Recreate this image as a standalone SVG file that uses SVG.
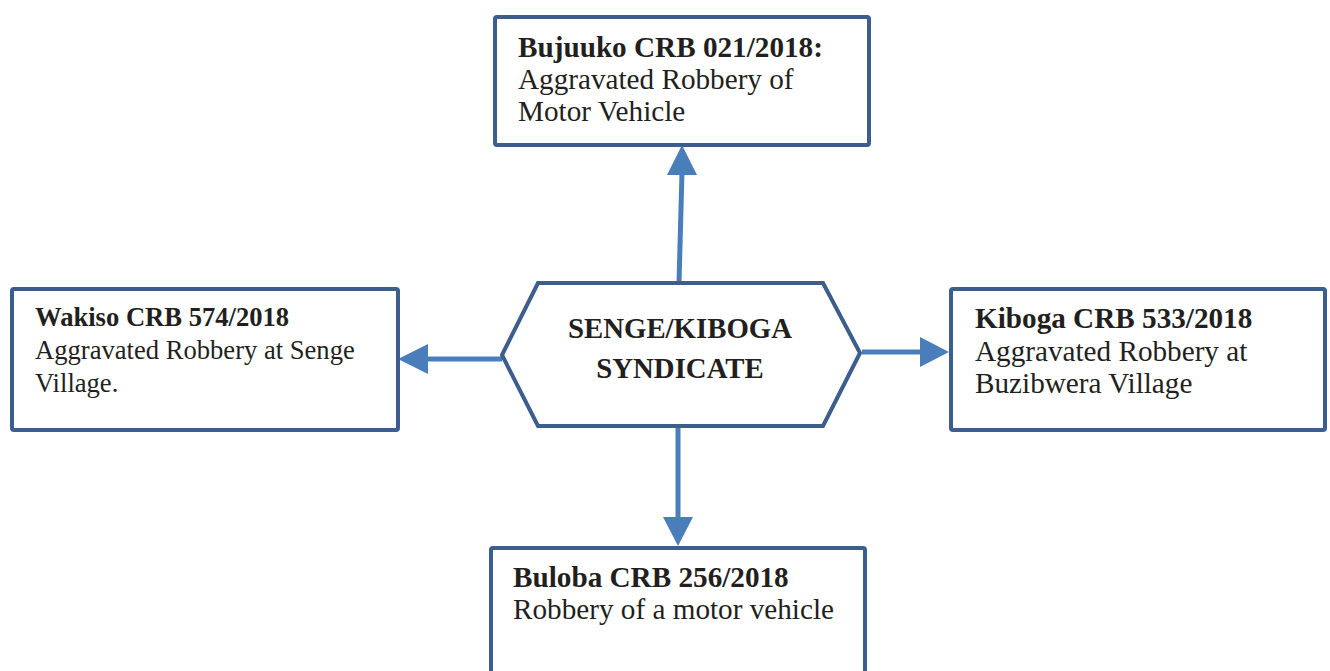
<svg xmlns="http://www.w3.org/2000/svg" width="1330" height="671" viewBox="0 0 1330 671">
  <defs>
    <style>
      .box { fill: #ffffff; stroke: #3B5E8C; stroke-width: 4; }
      .conn { stroke: #4A7EBB; stroke-width: 5; fill: none; }
      .head { fill: #4A7EBB; }
      text { font-family: "Liberation Serif", "Times New Roman", serif; font-size: 29.2px; fill: #231F20; }
      .b { font-weight: bold; }
      .sm { font-size: 26.6px; }
      .hx { font-size: 28.8px; }
    </style>
  </defs>
  <rect width="1330" height="671" fill="#ffffff"/>

  <g id="connectors">
    <line class="conn" x1="679" y1="283" x2="682" y2="172"/>
    <polygon class="head" points="682,145 667,175 697,175"/>
    <line class="conn" x1="502" y1="359" x2="426" y2="359"/>
    <polygon class="head" points="398,359 428,344 428,374"/>
    <line class="conn" x1="862" y1="352" x2="922" y2="352"/>
    <polygon class="head" points="949,352 920,337 920,367"/>
    <line class="conn" x1="678" y1="426" x2="678" y2="520"/>
    <polygon class="head" points="678,546 663,517 693,517"/>
  </g>

  <g id="center">
    <polygon class="box" points="502,355 538,283 823,283 860,353 823,426 538,426"/>
    <text class="b hx" x="680" y="338" text-anchor="middle">SENGE/KIBOGA</text>
    <text class="b hx" x="680" y="378" text-anchor="middle">SYNDICATE</text>
  </g>

  <g id="bujuuko">
    <rect class="box" x="495" y="17" width="374" height="128" rx="2"/>
    <text class="b" x="518" y="57">Bujuuko CRB 021/2018:</text>
    <text x="518" y="89">Aggravated Robbery of</text>
    <text x="518" y="121">Motor Vehicle</text>
  </g>

  <g id="wakiso">
    <rect class="box" x="12" y="289" width="386" height="141" rx="2"/>
    <text class="b sm" x="35" y="326">Wakiso CRB 574/2018</text>
    <text class="sm" x="35" y="359">Aggravated Robbery at Senge</text>
    <text class="sm" x="35" y="392">Village.</text>
  </g>

  <g id="kiboga">
    <rect class="box" x="951" y="289" width="374" height="141" rx="2"/>
    <text class="b" x="975" y="328">Kiboga CRB 533/2018</text>
    <text x="975" y="361">Aggravated Robbery at</text>
    <text x="975" y="393">Buzibwera Village</text>
  </g>

  <g id="buloba">
    <rect class="box" x="491" y="548" width="374" height="140" rx="2"/>
    <text class="b" x="513" y="587">Buloba CRB 256/2018</text>
    <text x="513" y="619">Robbery of a motor vehicle</text>
  </g>
</svg>
